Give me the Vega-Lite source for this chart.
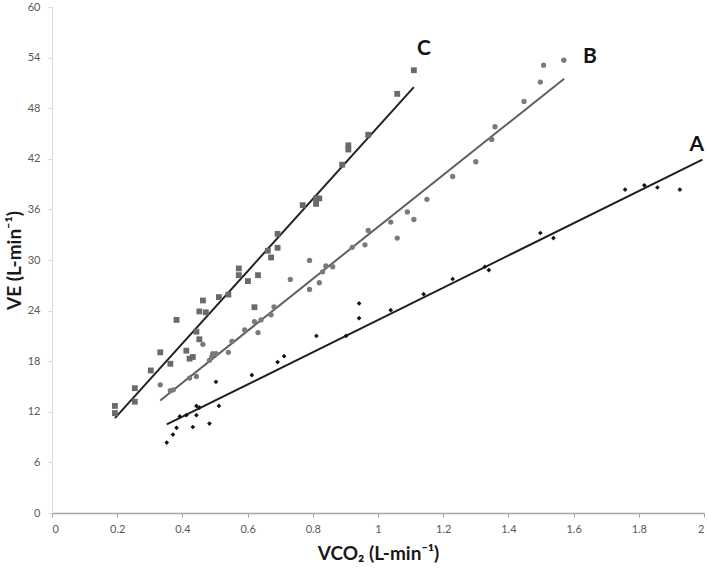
{
  "$schema": "https://vega.github.io/schema/vega-lite/v6.json",
  "autosize": "none",
  "width": 652,
  "height": 506,
  "padding": {"left": 52, "top": 7, "right": 5, "bottom": 58},
  "background": "white",
  "config": {"view": {"stroke": null}, "font": "Lato"},
  "datasets": {
    "pts": [
      {"series": "C", "x": 0.193, "y": 12.7},
      {"series": "C", "x": 0.193, "y": 11.85},
      {"series": "C", "x": 0.254, "y": 14.8},
      {"series": "C", "x": 0.254, "y": 13.2},
      {"series": "C", "x": 0.303, "y": 16.9},
      {"series": "C", "x": 0.332, "y": 19.05},
      {"series": "C", "x": 0.363, "y": 17.7},
      {"series": "C", "x": 0.382, "y": 22.9},
      {"series": "C", "x": 0.412, "y": 19.25},
      {"series": "C", "x": 0.422, "y": 18.3},
      {"series": "C", "x": 0.432, "y": 18.5},
      {"series": "C", "x": 0.443, "y": 21.5},
      {"series": "C", "x": 0.452, "y": 23.9},
      {"series": "C", "x": 0.452, "y": 20.6},
      {"series": "C", "x": 0.463, "y": 25.2},
      {"series": "C", "x": 0.472, "y": 23.8},
      {"series": "C", "x": 0.512, "y": 25.6},
      {"series": "C", "x": 0.541, "y": 25.9},
      {"series": "C", "x": 0.573, "y": 29.0},
      {"series": "C", "x": 0.573, "y": 28.2},
      {"series": "C", "x": 0.601, "y": 27.5},
      {"series": "C", "x": 0.621, "y": 24.4},
      {"series": "C", "x": 0.632, "y": 28.2},
      {"series": "C", "x": 0.662, "y": 31.1},
      {"series": "C", "x": 0.672, "y": 30.3},
      {"series": "C", "x": 0.692, "y": 33.1},
      {"series": "C", "x": 0.692, "y": 31.45},
      {"series": "C", "x": 0.769, "y": 36.5},
      {"series": "C", "x": 0.81, "y": 37.3},
      {"series": "C", "x": 0.82, "y": 37.3},
      {"series": "C", "x": 0.81, "y": 36.65},
      {"series": "C", "x": 0.89, "y": 41.3},
      {"series": "C", "x": 0.909, "y": 43.6},
      {"series": "C", "x": 0.909, "y": 43.1},
      {"series": "C", "x": 0.97, "y": 44.85},
      {"series": "C", "x": 1.059, "y": 49.7},
      {"series": "C", "x": 1.11, "y": 52.5},
      {"series": "B", "x": 0.332, "y": 15.2},
      {"series": "B", "x": 0.363, "y": 14.5},
      {"series": "B", "x": 0.372, "y": 14.6},
      {"series": "B", "x": 0.422, "y": 16.0},
      {"series": "B", "x": 0.443, "y": 16.2},
      {"series": "B", "x": 0.463, "y": 20.0},
      {"series": "B", "x": 0.483, "y": 18.1},
      {"series": "B", "x": 0.49, "y": 18.5},
      {"series": "B", "x": 0.493, "y": 18.9},
      {"series": "B", "x": 0.503, "y": 18.9},
      {"series": "B", "x": 0.541, "y": 19.05},
      {"series": "B", "x": 0.552, "y": 20.35},
      {"series": "B", "x": 0.591, "y": 21.7},
      {"series": "B", "x": 0.621, "y": 22.7},
      {"series": "B", "x": 0.632, "y": 21.4},
      {"series": "B", "x": 0.641, "y": 22.9},
      {"series": "B", "x": 0.672, "y": 23.5},
      {"series": "B", "x": 0.681, "y": 24.45},
      {"series": "B", "x": 0.731, "y": 27.7},
      {"series": "B", "x": 0.79, "y": 26.5},
      {"series": "B", "x": 0.79, "y": 29.95},
      {"series": "B", "x": 0.82, "y": 27.3},
      {"series": "B", "x": 0.83, "y": 28.6},
      {"series": "B", "x": 0.84, "y": 29.3},
      {"series": "B", "x": 0.861, "y": 29.2},
      {"series": "B", "x": 0.921, "y": 31.5},
      {"series": "B", "x": 0.96, "y": 31.8},
      {"series": "B", "x": 0.97, "y": 33.5},
      {"series": "B", "x": 1.039, "y": 34.5},
      {"series": "B", "x": 1.059, "y": 32.6},
      {"series": "B", "x": 1.09, "y": 35.7},
      {"series": "B", "x": 1.11, "y": 34.8},
      {"series": "B", "x": 1.15, "y": 37.2},
      {"series": "B", "x": 1.229, "y": 39.9},
      {"series": "B", "x": 1.3, "y": 41.65},
      {"series": "B", "x": 1.349, "y": 44.3},
      {"series": "B", "x": 1.359, "y": 45.8},
      {"series": "B", "x": 1.448, "y": 48.8},
      {"series": "B", "x": 1.498, "y": 51.1},
      {"series": "B", "x": 1.508, "y": 53.1},
      {"series": "B", "x": 1.57, "y": 53.7},
      {"series": "A", "x": 0.352, "y": 8.35},
      {"series": "A", "x": 0.371, "y": 9.3},
      {"series": "A", "x": 0.382, "y": 10.1},
      {"series": "A", "x": 0.392, "y": 11.45},
      {"series": "A", "x": 0.412, "y": 11.6},
      {"series": "A", "x": 0.432, "y": 10.2},
      {"series": "A", "x": 0.443, "y": 11.6},
      {"series": "A", "x": 0.443, "y": 12.7},
      {"series": "A", "x": 0.452, "y": 12.5},
      {"series": "A", "x": 0.483, "y": 10.6},
      {"series": "A", "x": 0.503, "y": 15.55},
      {"series": "A", "x": 0.512, "y": 12.7},
      {"series": "A", "x": 0.613, "y": 16.35},
      {"series": "A", "x": 0.692, "y": 17.9},
      {"series": "A", "x": 0.712, "y": 18.6},
      {"series": "A", "x": 0.811, "y": 21.0},
      {"series": "A", "x": 0.902, "y": 21.0},
      {"series": "A", "x": 0.942, "y": 24.85},
      {"series": "A", "x": 0.942, "y": 23.1},
      {"series": "A", "x": 1.039, "y": 24.05},
      {"series": "A", "x": 1.14, "y": 25.95},
      {"series": "A", "x": 1.229, "y": 27.75},
      {"series": "A", "x": 1.328, "y": 29.2},
      {"series": "A", "x": 1.34, "y": 28.8},
      {"series": "A", "x": 1.498, "y": 33.2},
      {"series": "A", "x": 1.538, "y": 32.6},
      {"series": "A", "x": 1.758, "y": 38.35},
      {"series": "A", "x": 1.817, "y": 38.85},
      {"series": "A", "x": 1.857, "y": 38.6},
      {"series": "A", "x": 1.926, "y": 38.35}
    ],
    "lines": [
      {"series": "C", "x": 0.193, "y": 11.25},
      {"series": "C", "x": 1.11, "y": 50.5},
      {"series": "B", "x": 0.332, "y": 13.35},
      {"series": "B", "x": 1.571, "y": 51.5},
      {"series": "A", "x": 0.352, "y": 10.5},
      {"series": "A", "x": 1.995, "y": 41.9}
    ],
    "labels": [
      {"series": "A", "x": 1.978, "y": 43.6},
      {"series": "B", "x": 1.65, "y": 54.1},
      {"series": "C", "x": 1.141, "y": 55.0}
    ]
  },
  "encoding": {
    "x": {
      "field": "x", "type": "quantitative",
      "scale": {"domain": [0, 2], "nice": false, "zero": false},
      "axis": {
        "values": [0, 0.2, 0.4, 0.6, 0.8, 1, 1.2, 1.4, 1.6, 1.8, 2],
        "format": "~g",
        "grid": false,
        "domainColor": "#a6a6a6",
        "domainWidth": 1.5,
        "tickColor": "#a6a6a6",
        "tickSize": 4,
        "labelColor": "#595959",
        "labelFontSize": 11,
        "labelPadding": 6,
        "labelFont": "Lato",
        "title": "VCO₂ (L-min⁻¹)",
        "titleFont": "Lato",
        "titleFontSize": 19,
        "titleFontWeight": "bold",
        "titleColor": "#1a1a1a",
        "titlePadding": 10
      }
    },
    "y": {
      "field": "y", "type": "quantitative",
      "scale": {"domain": [0, 60], "nice": false, "zero": false},
      "axis": {
        "values": [0, 6, 12, 18, 24, 30, 36, 42, 48, 54, 60],
        "grid": false,
        "domainColor": "#d9d9d9",
        "tickColor": "#d9d9d9",
        "tickSize": 4,
        "labelColor": "#595959",
        "labelFontSize": 11,
        "labelPadding": 8,
        "labelFont": "Lato",
        "title": "VE (L-min⁻¹)",
        "titleFont": "Lato",
        "titleFontSize": 19,
        "titleFontWeight": "bold",
        "titleColor": "#1a1a1a",
        "titlePadding": 3
      }
    }
  },
  "layer": [
    {
      "data": {"name": "lines"},
      "mark": {"type": "line", "strokeWidth": 2},
      "encoding": {
        "detail": {"field": "series"},
        "color": {
          "field": "series", "type": "nominal",
          "scale": {"domain": ["A", "B", "C"], "range": ["#1f1f1f", "#5f5f5f", "#222222"]},
          "legend": null
        }
      }
    },
    {
      "data": {"name": "pts"},
      "mark": {"type": "point", "filled": true, "opacity": 1},
      "encoding": {
        "shape": {
          "field": "series", "type": "nominal",
          "scale": {"domain": ["A", "B", "C"], "range": ["diamond", "circle", "square"]},
          "legend": null
        },
        "size": {
          "field": "series", "type": "nominal",
          "scale": {"domain": ["A", "B", "C"], "range": [22, 34, 42]},
          "legend": null
        },
        "color": {
          "field": "series", "type": "nominal",
          "scale": {"domain": ["A", "B", "C"], "range": ["#111111", "#7a7a7a", "#6a6a6a"]},
          "legend": null
        }
      }
    },
    {
      "data": {"name": "labels"},
      "mark": {"type": "text", "font": "Lato", "fontSize": 21, "fontWeight": "bold", "color": "#111111"},
      "encoding": {"text": {"field": "series"}}
    }
  ],
  "resolve": {"scale": {"color": "independent"}}
}
